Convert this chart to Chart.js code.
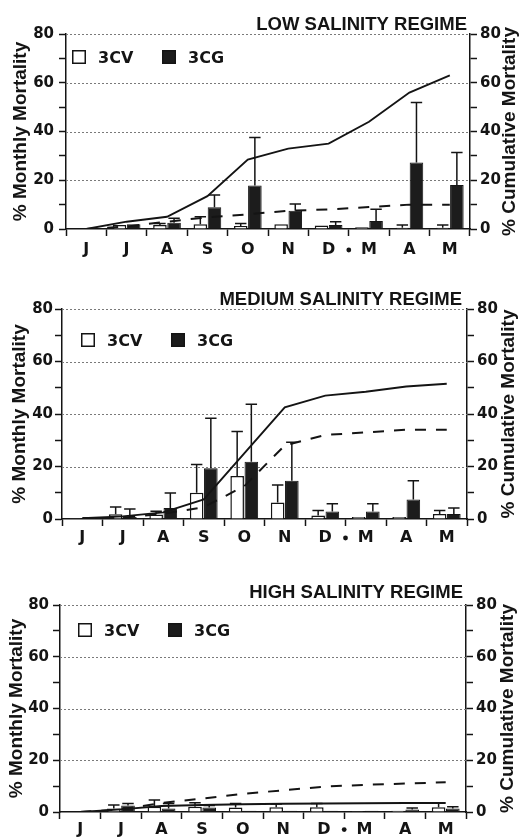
<!DOCTYPE html>
<html><head><meta charset="utf-8">
<script src="https://cdn.jsdelivr.net/npm/chart.js@4.4.1/dist/chart.umd.min.js"></script>
<style>
html,body{margin:0;padding:0;background:#fff;}
body{width:521px;height:838px;position:relative;overflow:hidden;}
canvas{position:absolute;left:0;}
</style></head><body>
<canvas id="c1" width="521" height="268" style="top:0px"></canvas>
<canvas id="c2" width="521" height="288" style="top:268px"></canvas>
<canvas id="c3" width="521" height="282" style="top:556px"></canvas>
<script>
// ---------- data ----------
const months = ['J','J','A','S','O','N','D','M','A','M'];
const seriesNames = ['3CV','3CG'];
const yTickLabels = [0, 20, 40, 60, 80];
const gridValues = [20, 40, 60, 80];
const leftAxisTitle = '% Monthly Mortality';
const rightAxisTitle = '% Cumulative Mortality';
const panelTitles = ['LOW SALINITY REGIME','MEDIUM SALINITY REGIME','HIGH SALINITY REGIME'];

const lowCV      = [0, 1.6, 1.6, 2, 1.2, 1.9, 1.4, 0.7, 0.5, 0.5];
const lowCVErr   = [0, 0, 0.7, 3, 1.1, 0, 0, 0, 1.1, 1.1];
const lowCG      = [0.3, 2, 2.6, 8.9, 17.8, 7.5, 1.6, 3.3, 27.3, 18.1];
const lowCGErr   = [0, 0, 1.8, 5.1, 19.7, 2.8, 1.4, 4.8, 24.6, 13.3];
const lowCumCV   = [0, 1, 3, 4.8, 6, 7.5, 8, 9, 10, 10];
const lowCumCG   = [0, 3, 5, 13.5, 28.5, 33, 35, 44, 56, 63];

const medCV      = [0.3, 1.8, 1.7, 10, 16.4, 6.3, 1.3, 0.8, 0.8, 1.9];
const medCVErr   = [0, 2.8, 1.3, 10.8, 16.9, 6.7, 1.9, 0, 0, 1.3];
const medCG      = [0.8, 0.8, 4.2, 19.3, 21.8, 14.6, 2.9, 2.9, 7.4, 1.9];
const medCGErr   = [0, 3, 5.7, 19.1, 21.9, 14.6, 2.9, 2.9, 7.2, 2.3];
const medCumCV   = [0, 0.5, 2, 4.5, 12.5, 28, 32, 33, 34, 34];
const medCumCG   = [0.3, 1, 2.5, 7.5, 25, 42.5, 47, 48.5, 50.5, 51.5];

const highCV     = [0, 1.4, 2, 2, 1.7, 1.8, 1.8, 0.3, 0.5, 1.8];
const highCVErr  = [0, 1.3, 2.6, 1.6, 1.6, 1.3, 1.5, 0, 0, 1.8];
const highCG     = [0.5, 2.5, 1.4, 1.7, 0.5, 0.5, 0.5, 0.5, 1, 1.4];
const highCGErr  = [0, 0.8, 1.9, 0.8, 0, 0, 0, 0, 0.5, 0.6];
const highCumCV  = [0, 1, 3.5, 5.2, 7, 8.4, 9.8, 10.5, 11, 11.5];
const highCumCG  = [0, 1, 2.3, 2.7, 3, 3.2, 3.3, 3.4, 3.5, 3.5];

// ---------- layout (per panel) ----------
const layouts = [
  {id:'c1', H:268, area:{l:66, r:470, t:34, b:229}, titleX:467, titleY:30, ltx:21, rtx:510, xPad:4.4, yPadL:5, lgDx:6,  lgDy:16, dotDy:21},
  {id:'c2', H:288, area:{l:62, r:467, t:41, b:251}, titleX:462, titleY:37, ltx:20, rtx:509, xPad:2.4, yPadL:2, lgDx:19, lgDy:24, dotDy:19},
  {id:'c3', H:282, area:{l:60, r:466, t:49, b:256}, titleX:463, titleY:42, ltx:17, rtx:508, xPad:1.0, yPadL:4, lgDx:18, lgDy:18, dotDy:17.6}
];
const panelData = [
  {cv:lowCV, cvErr:lowCVErr, cg:lowCG, cgErr:lowCGErr, cumCV:lowCumCV, cumCG:lowCumCG},
  {cv:medCV, cvErr:medCVErr, cg:medCG, cgErr:medCGErr, cumCV:medCumCV, cumCG:medCumCG},
  {cv:highCV, cvErr:highCVErr, cg:highCG, cgErr:highCGErr, cumCV:highCumCV, cumCG:highCumCG}
];

const INK = '#141414';
const tickFontY = {family:'"DejaVu Sans", sans-serif', weight:'bold', size:15};
const tickFontX = {family:'"DejaVu Sans", sans-serif', weight:'bold', size:16};

const decor = {
  id:'decor',
  beforeDatasetsDraw(chart, args, o) {
    const {ctx, chartArea:ca} = chart;
    const y = chart.scales.y;
    ctx.save();
    ctx.strokeStyle = '#7a7a7a'; ctx.lineWidth = 1; ctx.setLineDash([2,2]);
    gridValues.forEach(v => {
      const py = Math.round(y.getPixelForValue(v)) + 0.5;
      ctx.beginPath(); ctx.moveTo(ca.left, py); ctx.lineTo(ca.right, py); ctx.stroke();
    });
    ctx.restore();
  },
  afterDatasetsDraw(chart, args, o) {
    const ctx = chart.ctx;
    ctx.save();
    ctx.strokeStyle = INK; ctx.lineWidth = 1.5; ctx.setLineDash([]);
    chart.data.datasets.forEach((ds, di) => {
      if (!ds.errors) return;
      const meta = chart.getDatasetMeta(di);
      const ys = chart.scales[meta.yAxisID];
      meta.data.forEach((bar, j) => {
        const e = ds.errors[j];
        if (!e) return;
        const top = ys.getPixelForValue(ds.data[j] + e);
        const half = bar.width * 0.42;
        ctx.beginPath();
        ctx.moveTo(bar.x, bar.y); ctx.lineTo(bar.x, top);
        ctx.moveTo(bar.x - half, top); ctx.lineTo(bar.x + half, top);
        ctx.stroke();
      });
    });
    ctx.restore();
  },
  afterDraw(chart, args, o) {
    const {ctx, chartArea:ca} = chart;
    ctx.save();
    ctx.fillStyle = INK;
    // panel title
    ctx.font = 'bold 18.5px "Liberation Sans", Arial, sans-serif';
    ctx.textAlign = 'right'; ctx.textBaseline = 'alphabetic';
    ctx.fillText(o.title, o.titleX, o.titleY);
    // axis titles
    ctx.font = 'bold 19px "Liberation Sans", Arial, sans-serif';
    ctx.textAlign = 'center'; ctx.textBaseline = 'middle';
    const cy = (ca.top + ca.bottom) / 2;
    [[o.ltx, leftAxisTitle], [o.rtx, rightAxisTitle]].forEach(([x, t]) => {
      ctx.save(); ctx.translate(x, cy); ctx.rotate(-Math.PI/2); ctx.fillText(t, 0, 0); ctx.restore();
    });
    // legend
    ctx.font = 'bold 16px "DejaVu Sans", sans-serif';
    ctx.textAlign = 'left'; ctx.textBaseline = 'alphabetic';
    let k = 0;
    chart.data.datasets.forEach(ds => {
      if (!ds.errors) return;
      const bx = ca.left + o.lgDx + k * 90, by = ca.top + o.lgDy;
      ctx.fillStyle = ds.backgroundColor; ctx.fillRect(bx, by, 14, 14);
      ctx.strokeStyle = INK; ctx.lineWidth = 1.5; ctx.strokeRect(bx + 0.75, by + 0.75, 12.5, 12.5);
      ctx.fillStyle = INK; ctx.fillText(ds.label, bx + 26, by + 13);
      k++;
    });
    // year separator dot between D and M
    const xs = chart.scales.x;
    const dx = (xs.getPixelForValue(6) + xs.getPixelForValue(7)) / 2;
    ctx.beginPath(); ctx.arc(dx, ca.bottom + o.dotDy, 2.4, 0, Math.PI*2); ctx.fill();
    ctx.restore();
  }
};

function yAxis(pos, width, pad) {
  return {
    position: pos, min: 0, max: 80,
    grid: {drawOnChartArea:false, drawTicks:true, tickLength:7, tickWidth:1.5, tickColor:INK},
    border: {display:true, color:INK, width:1.5},
    ticks: {stepSize:10, color:INK, font:tickFontY, padding:pad,
            callback: v => yTickLabels.includes(v) ? String(v) : ''},
    afterFit: s => { s.width = width; }
  };
}

layouts.forEach((L, i) => {
  const d = panelData[i];
  new Chart(document.getElementById(L.id), {
    type: 'bar',
    data: {
      labels: months,
      datasets: [
        {type:'line', label:'Cumulative '+seriesNames[1], data:d.cumCG, yAxisID:'y2',
         borderColor:INK, borderWidth:1.9, pointRadius:0, tension:0, fill:false, order:0},
        {type:'line', label:'Cumulative '+seriesNames[0], data:d.cumCV, yAxisID:'y2',
         borderColor:INK, borderWidth:2, borderDash:[11,10], pointRadius:0, tension:0, fill:false, order:0},
        {label:seriesNames[0], data:d.cv, errors:d.cvErr, yAxisID:'y',
         backgroundColor:'#ffffff', borderColor:INK, borderWidth:1.5, order:1},
        {label:seriesNames[1], data:d.cg, errors:d.cgErr, yAxisID:'y',
         backgroundColor:'#1c1c1c', borderColor:INK, borderWidth:1, order:1}
      ]
    },
    options: {
      responsive:false, animation:false, devicePixelRatio:1,
      layout:{padding:{top:L.area.t, left:0, right:0, bottom:0}},
      datasets:{bar:{categoryPercentage:0.7, barPercentage:0.96}},
      plugins:{
        legend:{display:false}, tooltip:{enabled:false}, title:{display:false},
        decor:{title:panelTitles[i], titleX:L.titleX, titleY:L.titleY, ltx:L.ltx, rtx:L.rtx,
               lgDx:L.lgDx, lgDy:L.lgDy, dotDy:L.dotDy}
      },
      scales:{
        x:{
          type:'category', offset:true,
          grid:{offset:true, drawOnChartArea:false, drawTicks:true, tickLength:7, tickWidth:1.5, tickColor:INK},
          border:{display:true, color:INK, width:1.5},
          ticks:{color:INK, font:tickFontX, padding:L.xPad, maxRotation:0, autoSkip:false},
          afterFit: s => { s.height = L.H - L.area.b; }
        },
        y: yAxis('left', L.area.l, L.yPadL),
        y2: yAxis('right', 521 - L.area.r, 3)
      }
    },
    plugins:[decor]
  });
});
</script>
</body></html>
